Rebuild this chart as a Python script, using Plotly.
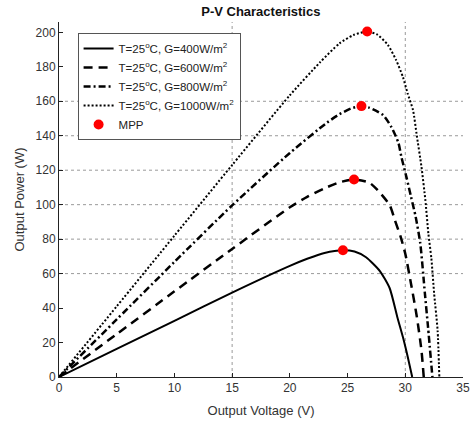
import plotly.graph_objects as go

# ---- data ----
v400 = [0, 5, 10, 15, 20, 21.5, 23, 24.6, 25.6, 26.6, 27.8, 28.65, 29.3, 29.8, 30.2, 30.6]
p400 = [0, 16.3, 32.6, 49, 64.5, 68.6, 72, 73.6, 72.8, 69.5, 61.5, 51.5, 35, 23, 12, 0]

v600 = [0, 5, 10, 15, 20, 21.5, 23, 24.3, 25.56, 26.9, 27.8, 28.65, 29.1, 29.6, 30.0, 30.5, 31.0, 31.4, 31.6]
p600 = [0, 24.9, 49.7, 74.3, 98.5, 104.5, 109.5, 113, 114.6, 112.7, 107, 99.7, 91, 81.3, 71.5, 54, 35, 15.5, 0]

v800 = [0, 5, 10, 15, 20, 23.2, 24.3, 25.3, 26.2, 26.9, 28.07, 28.8, 29.4, 29.66, 30.1, 30.5, 30.9, 31.3, 31.7, 31.97, 32.35]
p800 = [0, 33.4, 66.8, 99.6, 130, 147.5, 152.5, 155.8, 157.2, 156.2, 152, 145, 136, 127.8, 116, 104.5, 93, 77.5, 48.4, 29, 0]

v1000 = [0, 5, 10, 15, 20, 22.6, 24.3, 25.5, 26.7, 27.6, 28.5, 29.2, 29.8, 30.2, 30.67, 31.0, 31.4, 31.74, 32.0, 32.26, 32.5, 32.8, 32.95]
p1000 = [0, 41, 82, 123, 163.5, 182.5, 193.6, 198.4, 200.5, 198.6, 192.6, 184, 174, 164.6, 154.9, 140, 122, 102.6, 83.3, 68.8, 48.4, 27, 0]

mpp_v = [24.6, 25.56, 26.2, 26.7]
mpp_p = [73.6, 114.6, 157.2, 200.5]

labels = ["T=25<sup>o</sup>C, G=400W/m<sup>2</sup>",
          "T=25<sup>o</sup>C, G=600W/m<sup>2</sup>",
          "T=25<sup>o</sup>C, G=800W/m<sup>2</sup>",
          "T=25<sup>o</sup>C, G=1000W/m<sup>2</sup>",
          "MPP"]

x_ticks = [0, 5, 10, 15, 20, 25, 30, 35]
y_ticks = [0, 20, 40, 60, 80, 100, 120, 140, 160, 180, 200]
grid_x = [15, 30]
grid_y = [60, 80, 100, 120, 140, 160]

FONT = "Liberation Sans, Arial, sans-serif"
TXT = "#333333"

fig = go.Figure()
styles = [
    dict(width=2, dash="solid"),
    dict(width=2.5, dash="9px,6px"),
    dict(width=2.5, dash="7px,3px,2px,3px"),
    dict(width=2, dash="2px,2px"),
]
for (v, p), lab, st in zip([(v400, p400), (v600, p600), (v800, p800), (v1000, p1000)], labels[:4], styles):
    fig.add_trace(go.Scatter(x=v, y=p, mode="lines", name=lab,
                             line=dict(color="black", shape="spline", smoothing=0.6, **st)))
fig.add_trace(go.Scatter(x=mpp_v, y=mpp_p, mode="markers", name=labels[4],
                         marker=dict(color="#ff0000", size=10)))

shapes = []
for gx in grid_x:
    shapes.append(dict(type="line", xref="x", yref="paper", x0=gx, x1=gx, y0=0, y1=1,
                       line=dict(color="#9a9a9a", width=1, dash="dot"), layer="below"))
for gy in grid_y:
    shapes.append(dict(type="line", xref="paper", yref="y", x0=0, x1=1, y0=gy, y1=gy,
                       line=dict(color="#9a9a9a", width=1, dash="dot"), layer="below"))

fig.update_layout(
    width=470, height=425,
    margin=dict(l=59, r=7, t=22, b=48, autoexpand=False),
    paper_bgcolor="white", plot_bgcolor="white",
    font=dict(family=FONT, size=12, color=TXT),
    title=dict(text="<b>P-V Characteristics</b>", x=0.555, xanchor="center", y=0.973, yanchor="middle",
               font=dict(size=13, color="#111111")),
    shapes=shapes,
    showlegend=True,
    legend=dict(x=0.046, y=0.969, xanchor="left", yanchor="top",
                bgcolor="white", bordercolor="#555555", borderwidth=1,
                font=dict(size=11.5, color="#222222"), tracegroupgap=0,
                itemwidth=30),
    xaxis=dict(range=[0, 35], tickvals=x_ticks, ticks="inside", ticklen=4, tickcolor="#222",
               showline=True, linecolor="#222", linewidth=1, showgrid=False, zeroline=False,
               automargin=False,
               title=dict(text="Output Voltage (V)", font=dict(size=13), standoff=11),
               tickfont=dict(size=12)),
    yaxis=dict(range=[0, 206], tickvals=y_ticks, ticks="inside", ticklen=4, tickcolor="#222",
               showline=True, linecolor="#222", linewidth=1, showgrid=False, zeroline=False,
               automargin=False,
               title=dict(text="Output Power (W)", font=dict(size=13), standoff=8),
               tickfont=dict(size=12)),
)

fig.write_html("out.html")
